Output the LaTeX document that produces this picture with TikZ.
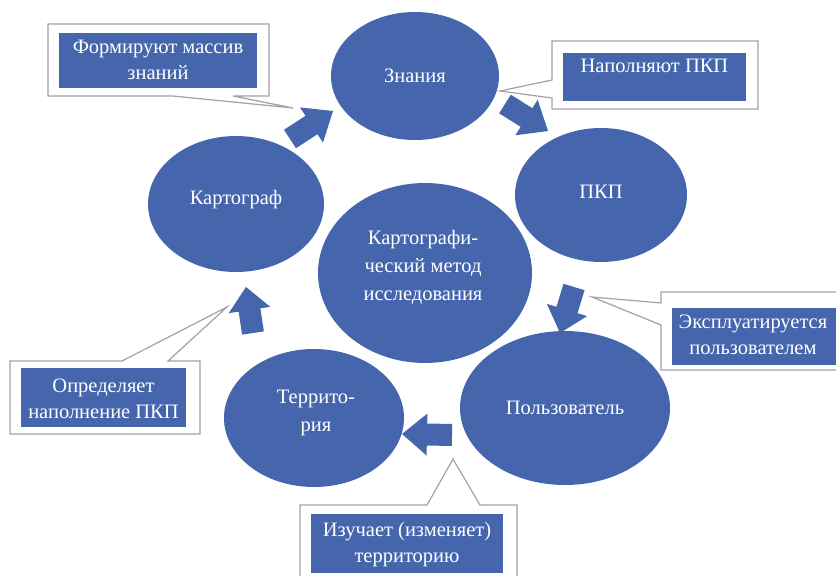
\documentclass[tikz,border=0pt]{standalone}
\usepackage{fontspec}
\setmainfont{Liberation Serif}
\usetikzlibrary{calc,shapes.geometric}
\definecolor{blu}{RGB}{69,101,173}
\definecolor{cbord}{RGB}{168,158,172}
\tikzset{
  oval/.style={ellipse,fill=blu,draw=none,inner sep=0pt},
  otext/.style={text=white,align=center,font=\fontsize{20.5}{28}\selectfont,inner sep=0pt},
  callout/.style={fill=white,draw=cbord,line width=1.2pt,line join=miter},
  inbox/.style={fill=blu,draw=none},
  ctext/.style={text=white,align=center,font=\fontsize{20.5}{26}\selectfont,inner sep=0pt},
}
\newcommand{\blockarr}[2]{%
  \fill[blu] ($(#1)!11pt!90:(#2)$) -- ($($(#1)!0.5!(#2)$)!11pt!90:(#2)$)
    -- ($($(#1)!0.5!(#2)$)!21pt!90:(#2)$) -- (#2)
    -- ($($(#1)!0.5!(#2)$)!21pt!-90:(#2)$) -- ($($(#1)!0.5!(#2)$)!11pt!-90:(#2)$)
    -- ($(#1)!11pt!-90:(#2)$) -- cycle;}
\begin{document}
\begin{tikzpicture}[x=1pt,y=-1pt]
\useasboundingbox (0,0) rectangle (836,576);
\clip (0,0) rectangle (836,576);
% ellipses
\node[oval,minimum width=168,minimum height=128] (zn) at (415,76) {};
\node[oval,minimum width=172,minimum height=134] (pkp) at (601,195) {};
\node[oval,minimum width=176,minimum height=136] (kg) at (236,204) {};
\node[oval,minimum width=214,minimum height=180] (cm) at (425,273) {};
\node[oval,minimum width=210,minimum height=154] (pol) at (565,408) {};
\node[oval,minimum width=180,minimum height=138] (ter) at (314,418) {};
\node[otext] (znt) at (415,76) {Знания};
\node[otext] (pkpt) at (601,192) {ПКП};
\node[otext] (kgt) at (236,200) {Картограф};
\node[otext] (cmt) at (423,267) {Картографи-\\ческий метод\\исследования};
\node[otext] (polt) at (565,408) {Пользователь};
\node[otext] (tert) at (316,413) {Террито-\\рия};
% block arrows
\coordinate (a1t) at (290,139); \coordinate (a1p) at (333,111);
\coordinate (a2t) at (505,104); \coordinate (a2p) at (548,131);
\coordinate (a3t) at (574,287); \coordinate (a3p) at (560,333);
\coordinate (a4t) at (452,435); \coordinate (a4p) at (402,434);
\coordinate (a5t) at (253,333); \coordinate (a5p) at (246,287);
\blockarr{a1t}{a1p}
\blockarr{a2t}{a2p}
\blockarr{a3t}{a3p}
\blockarr{a4t}{a4p}
\blockarr{a5t}{a5p}
% callouts
\draw[callout] (48,24) -- (269,24) -- (269,96) -- (233,96) -- (293,108) -- (173,96) -- (48,96) -- cycle;
\node[inbox,minimum width=198,minimum height=55] (c1) at (158,60.5) {};
\node[ctext] (c1t) at (158,60) {Формируют массив\\знаний};
\draw[callout] (552,41) -- (758,41) -- (758,109) -- (552,109) -- (552,98) -- (500,91) -- (552,80) -- cycle;
\node[inbox,minimum width=183,minimum height=48] (c2) at (654.5,77) {};
\node[ctext] (c2t) at (654.5,66) {Наполняют ПКП};
\draw[callout] (661,292) -- (850,292) -- (850,370) -- (661,370) -- (661,325) -- (592,297) -- (661,303) -- cycle;
\node[inbox,minimum width=166,minimum height=57] (c3) at (755,336.5) {};
\node[ctext] (c3t) at (753,334.5) {Эксплуатируется\\пользователем};
\draw[callout] (10,361) -- (122,361) -- (227,307) -- (168,361) -- (200,361) -- (200,434) -- (10,434) -- cycle;
\node[inbox,minimum width=165,minimum height=59] (c4) at (103.5,397.5) {};
\node[ctext] (c4t) at (103.5,398.5) {Определяет\\наполнение ПКП};
\draw[callout] (300,505) -- (427,505) -- (453,459) -- (480,505) -- (517,505) -- (517,590) -- (300,590) -- cycle;
\node[inbox,minimum width=192,minimum height=59] (c5) at (407,543.5) {};
\node[ctext] (c5t) at (407,544.5) {Изучает (изменяет)\\территорию};
\end{tikzpicture}
\end{document}
